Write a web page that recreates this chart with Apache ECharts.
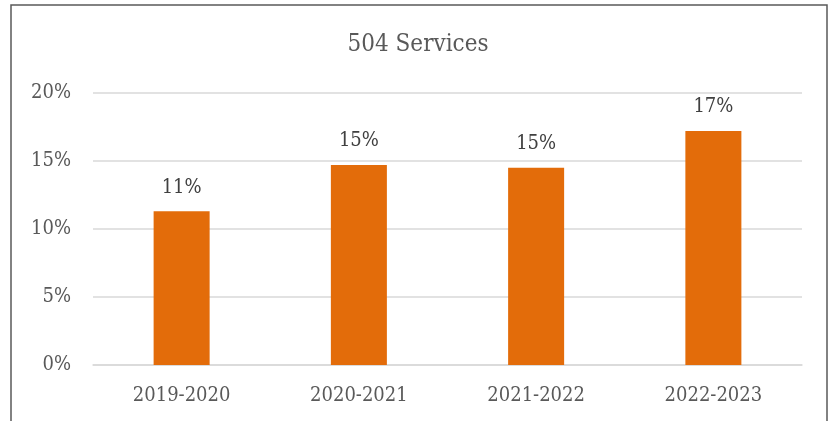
<!DOCTYPE html>
<html>
<head>
<meta charset="utf-8">
<script src="https://cdn.jsdelivr.net/npm/echarts@6/dist/echarts.min.js"></script>
<style>
  html, body { margin: 0; padding: 0; background: #fff; }
  #main { width: 836px; height: 421px; }
</style>
</head>
<body>
<div id="main"></div>
<script>
var years = ["2019-2020", "2020-2021", "2021-2022", "2022-2023"];
var servicePct = [11.3, 14.7, 14.5, 17.2];
var yTicks = [0, 5, 10, 15, 20];

var fontName = '"DejaVu Serif Condensed", "DejaVu Serif", serif';

var myChart = echarts.init(document.getElementById("main"));

var option = {
    backgroundColor: "#fff",
    animation: false,
    title: {
        text: "504 Services",
        left: "center",
        top: 28,
        textStyle: { fontFamily: fontName, fontSize: 24, fontWeight: "normal", color: "#595959" }
    },
    graphic: [{
        type: "rect",
        shape: { x: 11, y: 5, width: 816, height: 430 },
        style: { fill: "none", stroke: "#595959", lineWidth: 1.5 },
        silent: true
    }],
    grid: { left: 93, right: 34, top: 93, bottom: 56 },
    xAxis: {
        type: "category",
        data: years,
        axisLine: { lineStyle: { color: "#d9d9d9", width: 1.5 } },
        axisTick: { show: false },
        axisLabel: { fontFamily: fontName, fontSize: 20, color: "#595959", margin: 21 }
    },
    yAxis: {
        type: "value",
        min: yTicks[0],
        max: yTicks[yTicks.length - 1],
        interval: 5,
        axisLine: { show: false },
        axisTick: { show: false },
        splitLine: { lineStyle: { color: "#d9d9d9", width: 1.5 } },
        axisLabel: {
            fontFamily: fontName, fontSize: 20, color: "#595959", margin: 22,
            formatter: function (v) { return v + "%"; }
        }
    },
    series: [{
        type: "bar",
        data: servicePct,
        barWidth: "31.6%",
        itemStyle: { color: "#E36C0A" },
        label: {
            show: true,
            position: "top",
            distance: 14,
            fontFamily: fontName,
            fontSize: 20,
            color: "#404040",
            formatter: function (p) { return Math.round(p.value) + "%"; }
        }
    }]
};

myChart.setOption(option);
</script>
</body>
</html>
